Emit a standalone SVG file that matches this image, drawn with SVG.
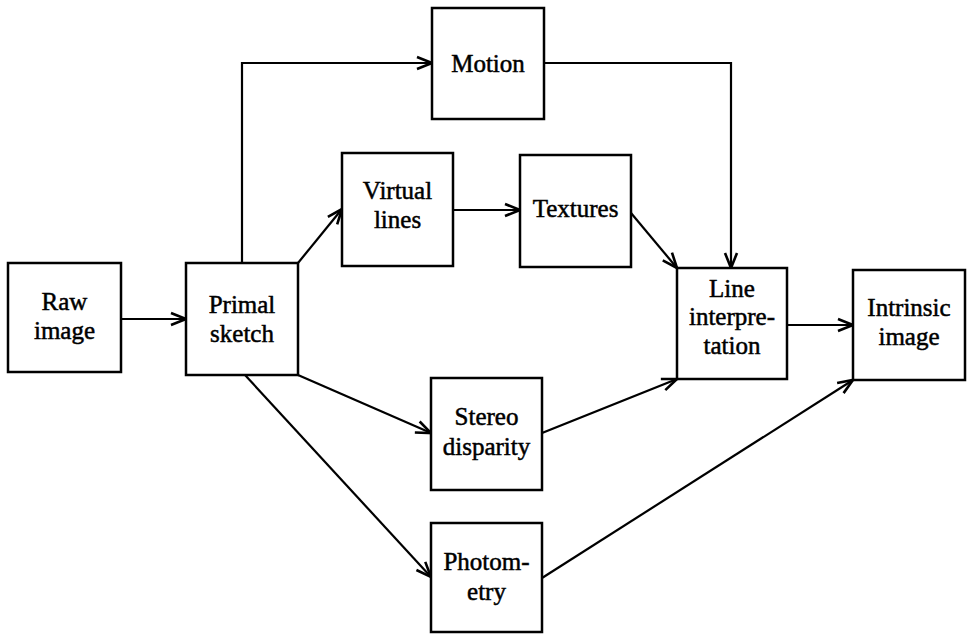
<svg xmlns="http://www.w3.org/2000/svg" width="968" height="634" viewBox="0 0 968 634">
<style>
.box{fill:#fff;stroke:#000;stroke-width:2.5}
.lbl{font-family:"Liberation Serif","Times New Roman",serif;font-size:25px;fill:#000;stroke:#000;stroke-width:0.5;text-anchor:middle}
.conn path{fill:none;stroke:#000;stroke-width:2.2;marker-end:url(#arr)}
</style>
<defs>
<marker id="arr" markerUnits="userSpaceOnUse" viewBox="-16 -8 18 16" refX="0" refY="0" markerWidth="18" markerHeight="16" orient="auto" overflow="visible">
<path d="M-15,-6 L0,0 L-15,6" fill="none" stroke="#000" stroke-width="2.6" stroke-linejoin="miter"/>
</marker>
</defs>
<g class="conn" id="connectors">
<path d="M121,319 L186,319"/>
<path d="M242,263 L242,63 L432,63"/>
<path d="M298,263 L342,209"/>
<path d="M453,210 L520,210"/>
<path d="M544,63 L731,63 L731,268"/>
<path d="M631,213 L677,268"/>
<path d="M298,375 L431,433"/>
<path d="M245,375 L431,577"/>
<path d="M542,433 L677,379"/>
<path d="M787,325 L853,325"/>
<path d="M542,578 L853,380"/>
</g>
<g id="raw"><rect class="box" x="8" y="263" width="113" height="109"/><text class="lbl" x="64.5" y="310">Raw</text><text class="lbl" x="64.5" y="339">image</text></g>
<g id="primal"><rect class="box" x="186" y="263" width="112" height="112"/><text class="lbl" x="242" y="313">Primal</text><text class="lbl" x="242" y="342">sketch</text></g>
<g id="motion"><rect class="box" x="432" y="8" width="112" height="111"/><text class="lbl" x="488" y="72">Motion</text></g>
<g id="virtual"><rect class="box" x="342" y="153" width="111" height="113"/><text class="lbl" x="397.5" y="199">Virtual</text><text class="lbl" x="397.5" y="228">lines</text></g>
<g id="textures"><rect class="box" x="520" y="155" width="111" height="112"/><text class="lbl" x="575.5" y="217">Textures</text></g>
<g id="line"><rect class="box" x="677" y="268" width="110" height="111"/><text class="lbl" x="732" y="297">Line</text><text class="lbl" x="732" y="325">interpre-</text><text class="lbl" x="732" y="354">tation</text></g>
<g id="intrinsic"><rect class="box" x="853" y="270" width="112" height="110"/><text class="lbl" x="909" y="316">Intrinsic</text><text class="lbl" x="909" y="345">image</text></g>
<g id="stereo"><rect class="box" x="431" y="378" width="111" height="112"/><text class="lbl" x="486.5" y="425">Stereo</text><text class="lbl" x="486.5" y="455">disparity</text></g>
<g id="photometry"><rect class="box" x="431" y="523" width="111" height="109"/><text class="lbl" x="486.5" y="570">Photom-</text><text class="lbl" x="486.5" y="600">etry</text></g>
</svg>
